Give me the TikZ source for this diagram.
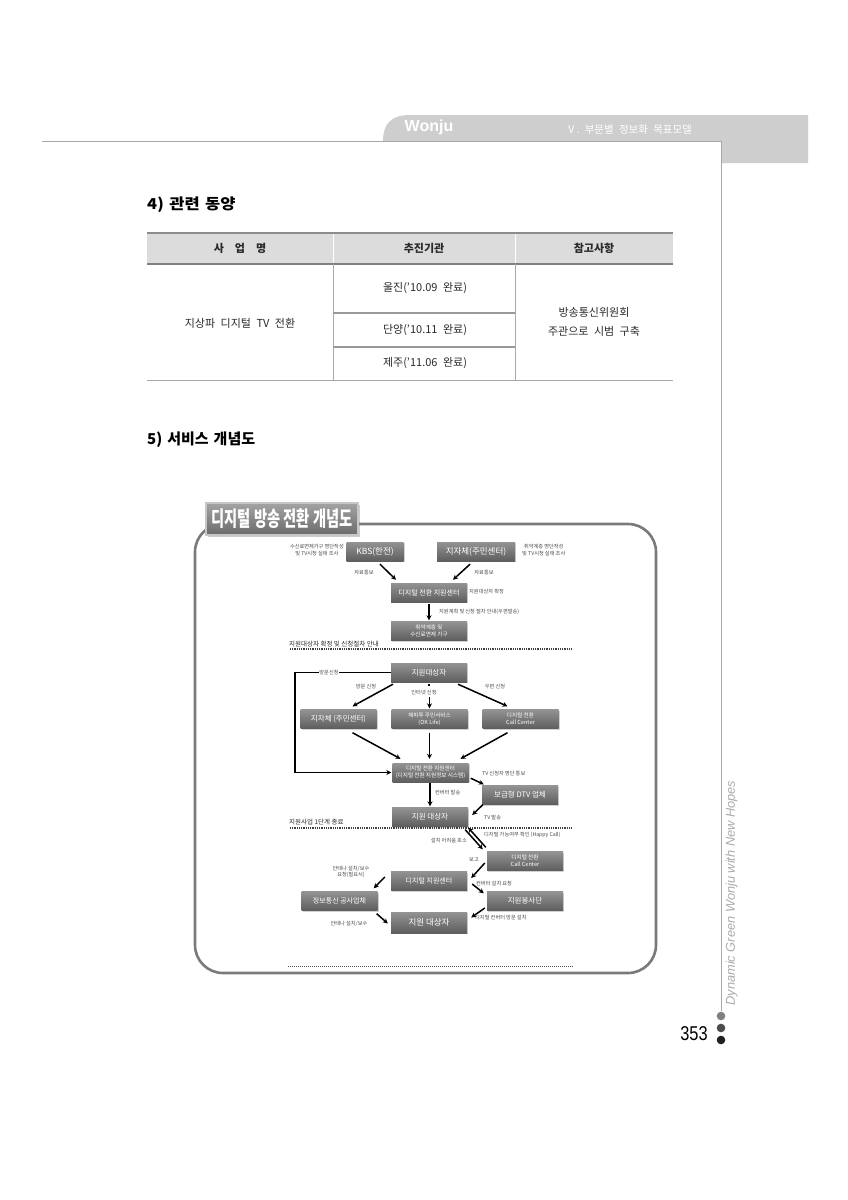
\documentclass[tikz,border=0pt]{standalone}
\usepackage{fontspec}
\setmainfont{Noto Sans CJK KR}
\newfontfamily\lib{Liberation Sans}
\usetikzlibrary{shadows,arrows.meta,calc}
\definecolor{tabgray}{HTML}{CECECE}
\definecolor{hdrgray}{HTML}{DCDCDC}
\definecolor{lngray}{HTML}{A8A8A8}
\definecolor{txt}{HTML}{2A2A2A}
\definecolor{boxtop}{HTML}{939393}
\definecolor{boxbot}{HTML}{5E5E5E}
\definecolor{lbl}{HTML}{4A4A4A}
\tikzset{
  tcell/.style={inner sep=0pt, text=txt, font=\fontsize{11}{19}\selectfont, align=center},
  thead/.style={tcell, font=\bfseries\fontsize{11}{19}\selectfont},
  gbox/.style={minimum width=76pt, minimum height=19pt, inner sep=0pt, top color=boxtop, bottom color=boxbot,
     text=white, font=\fontsize{7}{8}\selectfont, align=center,
     drop shadow={opacity=0.35, shadow xshift=1.2pt, shadow yshift=-1.2pt}},
  gbox2/.style={gbox, font=\fontsize{5.6}{6.6}\selectfont},
  tiny/.style={inner sep=0pt, text=lbl, font=\fontsize{5.2}{6.2}\selectfont, align=center},
  sect/.style={inner sep=0pt, text=txt, font=\fontsize{6.5}{7}\selectfont},
  arr/.style={-{Stealth[length=5pt,width=5pt]}, line width=1.5pt, black},
  plain/.style={line width=1.5pt, black},
  dotline/.style={line width=1.8pt, black!75, dash pattern=on 0.9pt off 0.9pt},
  title/.style={minimum width=152pt, minimum height=32pt, inner sep=0pt, top color=black!36, bottom color=black!58,
     draw=black!22, line width=1.5pt, text=white, font=\bfseries\fontsize{21}{21}\selectfont,
     drop shadow={opacity=0.4, shadow xshift=2pt, shadow yshift=-2pt}},
}
\begin{document}
\begin{tikzpicture}[x=1pt,y=-1pt]
\useasboundingbox (0,0) rectangle (847,1200);
\fill[white] (0,0) rectangle (847,1200);

% ---------- page header ----------
\fill[tabgray] (383,141) .. controls (383,124) and (391,115) .. (410,115) -- (808,115) -- (808,163) -- (721,163) -- (721,141) -- cycle;
\draw[lngray, line width=0.9pt] (42,141) -- (721,141) -- (721,1011);
\node[inner sep=0pt, text=white, font=\lib\bfseries\fontsize{16}{16}\selectfont] (wonju) at (429,127.5) {Wonju};
\node[inner sep=0pt, text=white, font=\fontsize{10.5}{11}\selectfont] (chap) at (629,130) {Ⅴ.\enspace 부문별\enspace 정보화\enspace 목표모델};

% ---------- side text, dots, page number ----------
\node[rotate=90, inner sep=0pt, text=black!33, font=\lib\itshape\fontsize{12.8}{13}\selectfont] (side) at (731.5,893) {Dynamic Green Wonju with New Hopes};
\fill[black!50] (721,1016) circle (4.3);
\fill[black!70] (721,1028) circle (4.3);
\fill[black!88] (721,1040) circle (4.3);
\node[inner sep=0pt, font=\lib\fontsize{20}{20}\selectfont] (pnum) at (694,1034) {\scalebox{0.82}[1]{353}};

% ---------- section 4 ----------
\node[anchor=west, inner sep=0pt, text=black, font=\bfseries\fontsize{15}{15}\selectfont] (s4) at (147,205) {\scalebox{1.1}[1]{4)\hspace{5pt}관련\hspace{5pt}동양}};

\fill[hdrgray] (147,233) rectangle (673,264);
\draw[white, line width=1pt] (333,233) -- (333,264) (515,233) -- (515,264);
\draw[black!45, line width=1.6pt] (147,233) -- (673,233);
\draw[black!50, line width=1.6pt] (147,264) -- (673,264);
\draw[lngray, line width=0.9pt] (333,264) -- (333,380) (515,264) -- (515,380);
\draw[black!40, line width=1.3pt] (333,313) -- (515,313) (333,347) -- (515,347);
\draw[lngray, line width=0.9pt] (147,380) -- (673,380);

\node[thead] (h1) at (240,248.5) {사\quad 업\quad 명};
\node[thead] (h2) at (424,248.5) {추진기관};
\node[thead] (h3) at (594,248.5) {참고사항};
\node[tcell] (r1) at (240,323) {지상파\enspace 디지털\enspace TV\enspace 전환};
\node[tcell] (r2a) at (425,288.5) {울진('10.09\enspace 완료)};
\node[tcell] (r2b) at (425,330) {단양('10.11\enspace 완료)};
\node[tcell] (r2c) at (425,363.5) {제주('11.06\enspace 완료)};
\node[tcell] (r3) at (594,322) {방송통신위원회\\주관으로\enspace 시범\enspace 구축};

% ---------- section 5 ----------
\node[anchor=west, inner sep=0pt, text=black, font=\bfseries\fontsize{15}{15}\selectfont] (s5) at (147,440) {5)\hspace{5pt}서비스\hspace{5pt}개념도};

% outer frame and title
\draw[black!52, line width=2.6pt, rounded corners=28pt] (195,524) rectangle (656,973);
\node[title] (ttl) at (282,519) {\scalebox{0.68}[1]{디지털 방송 전환 개념도}};

% --- part 1 ---
\node[gbox, minimum width=57pt, font=\fontsize{8.5}{9}\selectfont] (kbs) at (375,551.5) {KBS(한전)};
\node[gbox, minimum width=78pt, font=\fontsize{8.5}{9}\selectfont] (jjc) at (476,551.5) {지자체(주민센터)};
\node[gbox] (cen) at (429,592.5) {디지털 전환 지원센터};
\node[gbox2] (vul) at (429,631) {취약계층 및\\수신료면제 가구};

\node[tiny, anchor=east] (a1) at (344,550) {수신료면제가구 명단작성\\및 TV시청 실태 조사};
\node[tiny, anchor=west] (a2) at (522,550) {취약계층 명단작성\\및 TV시청 실태 조사};
\node[tiny] (a3) at (364,573) {자료통보};
\node[tiny] (a4) at (484,573) {자료통보};
\node[tiny, anchor=west] (a5) at (469,592) {지원대상자 확정};
\node[tiny, anchor=west] (a6) at (439,612) {지원계획 및 신청 절차 안내(우편발송)};
\node[sect, anchor=west] (p1) at (289,644) {지원대상자 확정 및 신청절차 안내};

\draw[arr] ($(kbs.south)+(5,3)$) -- ($(cen.north)+(-33,-3)$);
\draw[arr] ($(jjc.south)+(-6,3)$) -- ($(cen.north)+(24,-3)$);
\draw[arr] ($(cen.south)+(0,2)$) -- ($(vul.north)+(0,-1)$);
\draw[dotline] (290,649) -- (572,649);

% --- part 2 ---
\node[gbox, font=\fontsize{7.5}{8}\selectfont] (tgt) at (429,672.5) {지원대상자};
\node[gbox, font=\fontsize{7.5}{8}\selectfont] (jj2) at (338.5,719) {지자체 (주민센터)};
\node[gbox2] (ok) at (429.5,719) {해피투 주민서비스\\(OK Life)};
\node[gbox2] (call1) at (520.5,719) {디지털 전환\\Call Center};
\node[gbox2] (ctr2) at (430.5,772.5) {디지털 전환 지원센터\\(디지털 전환 지원정보 시스템)};
\node[gbox, font=\fontsize{7.5}{8}\selectfont] (dtv) at (520,795) {보급형 DTV 업체};
\node[gbox, font=\fontsize{7.5}{8}\selectfont] (tgt2) at (430,817) {지원 대상자};

\node[tiny] (visit) at (329,672.5) {방문신청};
\node[tiny] (b1) at (366,687) {방문 신청};
\node[tiny] (b2) at (424,693) {인터넷 신청};
\node[tiny] (b3) at (495,687) {우편 신청};
\node[tiny, anchor=west] (b4) at (482,774) {TV 신청자 명단 통보};
\node[tiny, anchor=west] (b5) at (435,793) {컨버터 발송};
\node[tiny, anchor=west] (b6) at (484,818) {TV 발송};
\node[sect, anchor=west] (p2) at (289,822) {지원사업 1단계 종료};

\coordinate (loop) at (295,672.5);
\draw[plain] (tgt.west) -- (visit.east);
\draw[arr] (visit.west) -- (loop) |- ($(ctr2.west)+(-1,0)$);
\draw[arr] ($(tgt.south)+(-36,2)$) -- ($(jj2.north)+(14,-3)$);
\draw[arr] ($(tgt.south)+(29,2)$) -- ($(call1.north)+(-13,-3)$);
\draw[plain] ($(tgt.south)+(0,2)$) -- ++(0,2);
\draw[arr] ($(ok.north)+(0,-12)$) -- ($(ok.north)+(0,-1)$);
\draw[arr] ($(jj2.south)+(14,4)$) -- ($(ctr2.north)+(-30,-4)$);
\draw[arr] ($(ok.south)+(0,4)$) -- ($(ctr2.north)+(-1,-4)$);
\draw[arr] ($(call1.south)+(-13,4)$) -- ($(ctr2.north)+(30,-4)$);
\draw[arr] ($(ctr2.south east)+(2,-4)$) -- ($(dtv.north west)+(2,-1)$);
\draw[arr] ($(ctr2.south)+(-0.5,1)$) -- ($(tgt2.north)+(0,-1)$);
\draw[arr] ($(dtv.south west)+(1,0)$) -- ($(tgt2.east)+(4,-2)$);
\draw[dotline] (290,828) -- (572,828);

% --- part 3 ---
\node[gbox2] (call2) at (525,861) {디지털 전환\\Call Center};
\node[gbox, font=\fontsize{7}{8}\selectfont] (ctr3) at (429,881) {디지털 지원센터};
\node[gbox, font=\fontsize{7}{8}\selectfont] (kong) at (339.5,901) {정보통신 공사업체};
\node[gbox, font=\fontsize{7.5}{8}\selectfont] (bong) at (525,901) {지원봉사단};
\node[gbox, font=\fontsize{8.5}{9}\selectfont, minimum height=21pt] (tgt3) at (429,922.5) {지원 대상자};

\node[tiny, anchor=east] (c1) at (467,841) {설치 어려움 호소};
\node[tiny, anchor=west] (c2) at (484,835) {디지털 가능여부 확인 (Happy Call)};
\node[tiny] (c3) at (474,860) {보고};
\node[tiny] (c4) at (351,872) {안테나 설치/보수\\요청(필요시)};
\node[tiny, anchor=west] (c5) at (476,884) {컨버터 설치 요청};
\node[tiny, anchor=west] (c6) at (475,918) {디지털 컨버터 방문 설치};
\node[tiny] (c7) at (349,924) {안테나 설치/보수};

\draw[arr] ($(tgt2.south east)+(-3,3)$) -- ($(call2.north west)+(-4,-2)$);
\draw[arr] ($(call2.north west)+(-1,-4)$) -- ($(tgt2.south east)+(0,1)$);
\draw[arr] ($(call2.west)+(-2,2)$) -- ($(ctr3.east)+(4,-3)$);
\draw[arr] ($(ctr3.west)+(-6,-4)$) -- ($(kong.north east)+(-4,-3)$);
\draw[arr] ($(ctr3.east)+(5,3)$) -- ($(bong.north west)+(-3,2)$);
\draw[arr] ($(bong.west)+(-2,7)$) -- ($(tgt3.east)+(4,-5)$);
\draw[arr] ($(kong.south east)+(-1,3)$) -- ($(tgt3.west)+(-3,1)$);
\draw[black!70, line width=0.7pt, dash pattern=on 1pt off 1pt] (288,966) -- (573,966);
\end{tikzpicture}
\end{document}
